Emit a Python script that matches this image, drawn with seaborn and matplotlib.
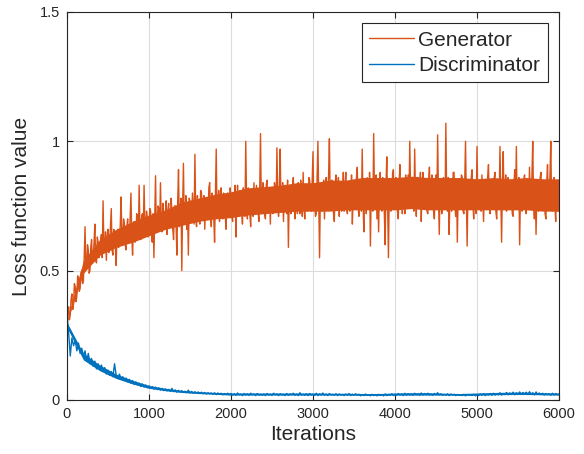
import numpy as np
import pandas as pd
import matplotlib
matplotlib.use('Agg')
import matplotlib.pyplot as plt
import seaborn as sns

# generator loss, one value every 10 iterations
gen_iter = np.arange(0, 6001, 10)
generator = [
    0.30, 0.34, 0.36, 0.31, 0.33, 0.39, 0.41, 0.35, 0.37, 0.45, 0.44, 0.38, 0.40, 0.48, 0.47, 0.42, 0.43, 0.49, 0.50, 0.45,  # 0
    0.46, 0.55, 0.67, 0.51, 0.52, 0.60, 0.58, 0.49, 0.50, 0.59, 0.62, 0.53, 0.55, 0.61, 0.68, 0.54, 0.53, 0.63, 0.61, 0.55,  # 200
    0.57, 0.62, 0.64, 0.55, 0.77, 0.59, 0.58, 0.65, 0.54, 0.63, 0.66, 0.57, 0.60, 0.67, 0.74, 0.58, 0.56, 0.66, 0.63, 0.59,  # 400
    0.52, 0.65, 0.66, 0.59, 0.60, 0.68, 0.785, 0.61, 0.62, 0.70, 0.68, 0.60, 0.58, 0.67, 0.70, 0.62, 0.61, 0.71, 0.80, 0.63,  # 600
    0.56, 0.68, 0.69, 0.61, 0.63, 0.72, 0.71, 0.62, 0.83, 0.66, 0.62, 0.71, 0.72, 0.64, 0.83, 0.67, 0.64, 0.73, 0.70, 0.63,  # 800
    0.66, 0.74, 0.73, 0.64, 0.61, 0.72, 0.55, 0.70, 0.867, 0.65, 0.68, 0.75, 0.74, 0.66, 0.84, 0.69, 0.65, 0.76, 0.72, 0.66,  # 1000
    0.70, 0.77, 0.64, 0.73, 0.76, 0.67, 0.68, 0.78, 0.73, 0.66, 0.62, 0.75, 0.75, 0.68, 0.56, 0.77, 0.89, 0.67, 0.69, 0.78,  # 1200
    0.50, 0.74, 0.915, 0.68, 0.71, 0.79, 0.66, 0.75, 0.56, 0.78, 0.77, 0.69, 0.69, 0.80, 0.74, 0.68, 0.95, 0.72, 0.67, 0.79,  # 1400
    0.75, 0.70, 0.68, 0.81, 0.80, 0.71, 0.72, 0.79, 0.66, 0.76, 0.78, 0.70, 0.71, 0.82, 0.84, 0.72, 0.67, 0.80, 0.76, 0.70,  # 1600
    0.61, 0.78, 0.97, 0.71, 0.73, 0.81, 0.69, 0.77, 0.82, 0.72, 0.70, 0.80, 0.77, 0.71, 0.66, 0.79, 0.80, 0.73, 0.72, 0.82,  # 1800
    0.78, 0.71, 0.69, 0.80, 0.74, 0.83, 0.63, 0.76, 0.83, 0.72, 0.71, 0.81, 0.79, 0.73, 0.68, 0.82, 0.75, 0.71, 1.00, 0.77,  # 2000
    0.70, 0.82, 0.81, 0.72, 0.67, 0.79, 0.77, 0.71, 0.84, 0.74, 0.72, 0.83, 0.78, 0.73, 0.69, 0.81, 1.03, 0.75, 0.74, 0.84,  # 2200
    0.80, 0.72, 0.70, 0.83, 0.85, 0.74, 0.73, 0.80, 0.68, 0.82, 0.79, 0.72, 0.75, 0.84, 0.82, 0.73, 0.975, 0.78, 0.71, 0.83,  # 2400
    0.97, 0.74, 0.76, 0.84, 0.69, 0.80, 0.83, 0.73, 0.72, 0.85, 0.59, 0.78, 0.80, 0.72, 0.74, 0.83, 0.86, 0.75, 0.70, 0.82,  # 2600
    0.78, 0.72, 0.84, 0.76, 0.72, 0.85, 0.77, 0.71, 0.88, 0.75, 0.70, 0.83, 0.81, 0.73, 0.75, 0.86, 0.85, 0.74, 0.73, 0.84,  # 2800
    0.96, 0.75, 0.79, 0.71, 0.72, 0.86, 1.00, 0.76, 0.55, 0.80, 0.83, 0.73, 0.76, 0.85, 0.70, 0.81, 0.86, 0.74, 0.78, 0.87,  # 3000
    1.01, 0.77, 0.74, 0.85, 0.82, 0.72, 0.69, 0.83, 0.87, 0.75, 0.77, 0.86, 0.71, 0.80, 0.84, 0.73, 0.79, 0.88, 0.73, 0.82,  # 3200
    0.88, 0.74, 0.72, 0.84, 0.80, 0.73, 0.76, 0.87, 0.68, 0.79, 0.85, 0.74, 0.78, 0.86, 0.90, 0.75, 0.71, 0.84, 0.82, 0.73,  # 3400
    0.97, 0.77, 0.65, 0.83, 0.79, 0.72, 0.86, 0.76, 0.74, 0.88, 0.595, 0.80, 0.83, 0.73, 1.03, 0.79, 0.76, 0.87, 0.70, 0.82,  # 3600
    0.65, 0.84, 0.88, 0.74, 0.73, 0.86, 0.81, 0.72, 0.60, 0.83, 0.94, 0.76, 0.55, 0.81, 0.84, 0.73, 0.77, 0.87, 0.89, 0.75,  # 3800
    0.74, 0.86, 0.82, 0.73, 0.70, 0.84, 0.91, 0.77, 0.78, 0.72, 0.85, 0.80, 0.72, 0.87, 0.80, 0.74, 0.87, 0.76, 1.00, 0.81,  # 4000
    0.76, 0.85, 0.83, 0.73, 0.97, 0.79, 0.71, 0.86, 0.86, 0.74, 0.79, 0.88, 0.69, 0.82, 0.88, 0.75, 0.75, 0.84, 0.82, 0.73,  # 4200
    0.72, 0.85, 0.90, 0.76, 0.78, 0.87, 0.84, 0.73, 0.70, 0.83, 0.87, 0.75, 1.025, 0.79, 0.64, 0.84, 0.80, 0.72, 0.76, 0.86,  # 4400
    0.85, 0.74, 1.07, 0.80, 0.73, 0.86, 0.64, 0.78, 0.82, 0.73, 0.78, 0.88, 0.88, 0.75, 0.71, 0.84, 0.61, 0.79, 0.84, 0.74,  # 4600
    0.77, 0.87, 0.86, 0.73, 0.72, 0.84, 1.00, 0.78, 0.595, 0.82, 0.81, 0.74, 0.75, 0.86, 0.89, 0.76, 0.70, 0.83, 0.83, 0.72,  # 4800
    0.98, 0.77, 0.74, 0.85, 0.80, 0.73, 0.87, 0.78, 0.69, 0.84, 0.84, 0.74, 0.77, 0.86, 0.91, 0.75, 0.72, 0.83, 0.82, 0.74,  # 5000
    0.76, 0.86, 0.88, 0.73, 0.70, 0.82, 0.85, 0.76, 0.98, 0.79, 0.61, 0.83, 0.96, 0.75, 0.79, 0.87, 0.73, 0.81, 0.86, 0.74,  # 5200
    0.78, 0.85, 0.84, 0.72, 0.71, 0.83, 0.89, 0.77, 0.98, 0.74, 0.75, 0.86, 0.60, 0.80, 0.83, 0.73, 0.77, 0.85, 0.87, 0.76,  # 5400
    0.72, 0.84, 0.81, 0.74, 0.90, 0.78, 0.76, 0.87, 1.00, 0.75, 0.70, 0.83, 0.64, 0.79, 0.85, 0.73, 0.79, 0.86, 0.88, 0.74,  # 5600
    0.74, 0.85, 0.83, 0.72, 0.70, 0.84, 0.91, 0.76, 0.78, 0.87, 1.00, 0.74, 0.73, 0.82, 0.86, 0.75, 0.69, 0.83, 0.82, 0.73,  # 5800
    0.78,
]

# discriminator loss, one value every 20 iterations
dis_iter = np.arange(0, 6001, 20)
discriminator = [
    0.33, 0.26, 0.17, 0.24, 0.21, 0.23, 0.19, 0.22, 0.18, 0.20,
    0.17, 0.19, 0.15, 0.18, 0.14, 0.16, 0.13, 0.15, 0.12, 0.14,
    0.12, 0.135, 0.11, 0.125, 0.10, 0.115, 0.095, 0.11, 0.09, 0.14,
    0.095, 0.085, 0.10, 0.08, 0.09, 0.075, 0.085, 0.07, 0.08, 0.065,
    0.075, 0.06, 0.07, 0.058, 0.065, 0.052, 0.062, 0.05, 0.058, 0.047,
    0.055, 0.045, 0.052, 0.042, 0.05, 0.04, 0.047, 0.038, 0.045, 0.036,
    0.043, 0.035, 0.041, 0.033, 0.045, 0.032, 0.039, 0.03, 0.037, 0.031,
    0.036, 0.029, 0.034, 0.028, 0.038, 0.027, 0.033, 0.026, 0.032, 0.027,
    0.031, 0.025, 0.03, 0.024, 0.029, 0.023, 0.028, 0.024, 0.027, 0.022,
    0.028, 0.021, 0.027, 0.022, 0.026, 0.02, 0.025, 0.021, 0.026, 0.02,
    0.025, 0.019, 0.024, 0.018, 0.027, 0.02, 0.023, 0.017, 0.025, 0.019,
    0.024, 0.018, 0.026, 0.02, 0.023, 0.017, 0.025, 0.019, 0.022, 0.018,
    0.023, 0.017, 0.025, 0.019, 0.022, 0.018, 0.026, 0.02, 0.023, 0.017,
    0.024, 0.019, 0.022, 0.017, 0.025, 0.018, 0.023, 0.02, 0.026, 0.018,
    0.023, 0.017, 0.028, 0.019, 0.022, 0.018, 0.024, 0.017, 0.025, 0.019,
    0.022, 0.018, 0.026, 0.017, 0.024, 0.019, 0.027, 0.018, 0.023, 0.017,
    0.025, 0.019, 0.022, 0.018, 0.024, 0.017, 0.023, 0.019, 0.021, 0.017,
    0.023, 0.018, 0.025, 0.017, 0.022, 0.018, 0.024, 0.019, 0.022, 0.016,
    0.021, 0.017, 0.023, 0.018, 0.02, 0.016, 0.022, 0.017, 0.021, 0.016,
    0.022, 0.017, 0.02, 0.016, 0.023, 0.017, 0.021, 0.018, 0.024, 0.017,
    0.022, 0.018, 0.025, 0.019, 0.023, 0.017, 0.026, 0.018, 0.024, 0.019,
    0.023, 0.018, 0.026, 0.02, 0.024, 0.018, 0.027, 0.019, 0.025, 0.02,
    0.026, 0.019, 0.023, 0.018, 0.025, 0.02, 0.028, 0.019, 0.024, 0.018,
    0.022, 0.018, 0.024, 0.017, 0.023, 0.019, 0.022, 0.017, 0.021, 0.018,
    0.02, 0.017, 0.022, 0.016, 0.021, 0.018, 0.02, 0.017, 0.022, 0.016,
    0.021, 0.017, 0.023, 0.018, 0.024, 0.017, 0.022, 0.019, 0.025, 0.018,
    0.026, 0.019, 0.024, 0.02, 0.028, 0.019, 0.025, 0.021, 0.029, 0.02,
    0.027, 0.021, 0.03, 0.02, 0.028, 0.022, 0.031, 0.021, 0.029, 0.022,
    0.03, 0.021, 0.032, 0.022, 0.028, 0.02, 0.031, 0.022, 0.027, 0.021,
    0.026, 0.019, 0.025, 0.02, 0.024, 0.018, 0.026, 0.019, 0.025, 0.02,
    0.022,
]

# solid core of each noisy curve (where the trace is fully inked), every 200 iterations
band_iter = np.arange(0, 6001, 200)
gen_low = [0.30, 0.49, 0.56, 0.59, 0.61, 0.635, 0.66, 0.675, 0.69, 0.70, 0.705,
           0.715, 0.72, 0.725, 0.73, 0.73, 0.73, 0.735, 0.735, 0.735, 0.735,
           0.74, 0.735, 0.735, 0.735, 0.735, 0.735, 0.735, 0.735, 0.73, 0.73]
gen_high = [0.31, 0.54, 0.62, 0.66, 0.69, 0.715, 0.735, 0.765, 0.78, 0.795, 0.805,
            0.82, 0.825, 0.83, 0.84, 0.84, 0.85, 0.85, 0.86, 0.86, 0.86,
            0.865, 0.86, 0.86, 0.86, 0.855, 0.86, 0.855, 0.86, 0.855, 0.855]
dis_low = [0.28, 0.155, 0.113, 0.083, 0.062, 0.045, 0.036, 0.029, 0.025, 0.022, 0.019,
           0.019, 0.019, 0.019, 0.019, 0.019, 0.019, 0.019, 0.018, 0.018, 0.019,
           0.019, 0.019, 0.019, 0.018, 0.019, 0.02, 0.021, 0.021, 0.02, 0.019]
dis_high = [0.30, 0.18, 0.135, 0.10, 0.076, 0.056, 0.045, 0.037, 0.032, 0.029, 0.027,
            0.027, 0.027, 0.027, 0.027, 0.027, 0.026, 0.026, 0.025, 0.025, 0.027,
            0.028, 0.028, 0.026, 0.025, 0.027, 0.029, 0.03, 0.03, 0.028, 0.027]

x_ticks = [0, 1000, 2000, 3000, 4000, 5000, 6000]
y_ticks = [0, 0.5, 1, 1.5]
y_tick_labels = ['0', '0.5', '1', '1.5']

gen_color = '#D95319'
dis_color = '#0072BD'

gen_df = pd.DataFrame({'iter': gen_iter, 'loss': generator})
dis_df = pd.DataFrame({'iter': dis_iter, 'loss': discriminator})

sns.set_style('ticks')
plt.rcParams['font.family'] = ['Liberation Sans', 'DejaVu Sans']

fig = plt.figure(figsize=(5.84, 4.54), dpi=100)
ax = fig.add_axes([0.1147, 0.119, 0.8425, 0.8546])

ax.fill_between(band_iter, gen_low, gen_high, color=gen_color, linewidth=0)
ax.fill_between(band_iter, dis_low, dis_high, color=dis_color, linewidth=0)
sns.lineplot(data=gen_df, x='iter', y='loss', ax=ax, color=gen_color,
             linewidth=1.0, label='Generator')
sns.lineplot(data=dis_df, x='iter', y='loss', ax=ax, color=dis_color,
             linewidth=1.0, label='Discriminator')

ax.set_xlim(0, 6000)
ax.set_ylim(0, 1.5)
ax.set_xticks(x_ticks)
ax.set_yticks(y_ticks)
ax.set_yticklabels(y_tick_labels)
ax.grid(True, color='#DCDCDC', linewidth=0.8)
ax.set_axisbelow(True)
ax.tick_params(direction='in', top=True, right=True, length=4,
               width=0.8, color='#262626', labelsize=10.5,
               labelcolor='#262626', pad=5)
for s in ax.spines.values():
    s.set_visible(True)
    s.set_color('#262626')
    s.set_linewidth(0.8)

ax.set_xlabel('Iterations', fontsize=15, color='#262626', labelpad=3)
ax.set_ylabel('Loss function value', fontsize=15, color='#262626', labelpad=6)

leg = ax.legend(loc='upper right', fontsize=15, frameon=True, fancybox=False,
                framealpha=1, edgecolor='#262626', handlelength=2.15,
                borderaxespad=0.55, borderpad=0.35, labelspacing=0.3,
                handletextpad=0.2)
leg.get_frame().set_linewidth(0.8)

plt.savefig('out.png', dpi=100)
